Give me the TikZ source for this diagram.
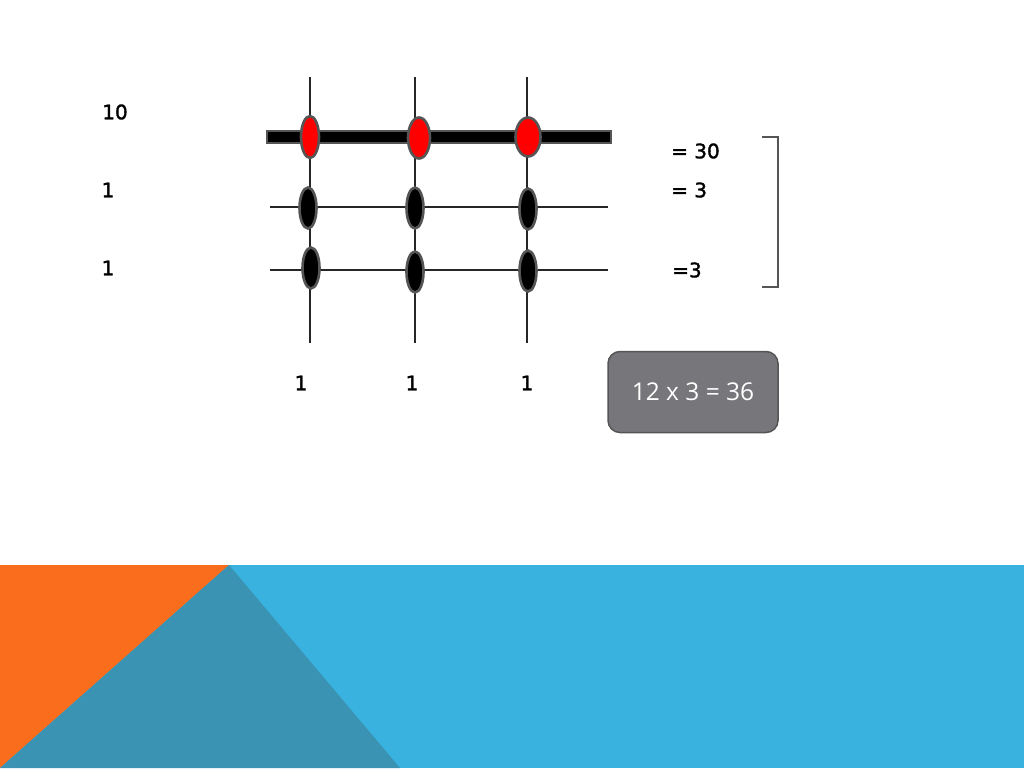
\documentclass[tikz,border=0pt]{standalone}
\usepackage{fontspec}
\setmainfont{DejaVu Sans}
\newfontfamily\lblfont{DejaVu Sans}[FakeBold=1.6]
\newfontfamily\boxfont{Open Sans}
\usetikzlibrary{shapes.geometric}
\definecolor{orng}{HTML}{F96D1C}
\definecolor{lblue}{HTML}{3AB2E0}
\definecolor{dteal}{HTML}{3A93B2}
\definecolor{bgray}{HTML}{77777B}
\definecolor{bdgray}{HTML}{555555}
\definecolor{beadred}{HTML}{FF0000}
\tikzset{
  lbl/.style={font=\lblfont\fontsize{20}{20}\selectfont, text=black, inner sep=0pt},
  wire/.style={draw=black!85, line width=1.2pt},
  bead/.style={ellipse, draw=bdgray, line width=2.6pt, fill=black, minimum width=17pt, minimum height=41pt, inner sep=0pt},
  redbead/.style={bead, fill=beadred},
  resbox/.style={draw=bdgray, line width=1.5pt, fill=bgray, rounded corners=12pt, minimum width=170pt, minimum height=81pt, text=white, font=\boxfont\fontsize{24.5}{24.5}\selectfont}
}
\begin{document}
\begin{tikzpicture}[x=1pt,y=-1pt]
\useasboundingbox (0,0) rectangle (1024,768);
\fill[white] (0,0) rectangle (1024,768);
% bottom band
\fill[lblue] (0,565) rectangle (1024,768);
\fill[orng] (0,565) -- (229,565) -- (0,768) -- cycle;
\fill[dteal] (229,565) -- (400,768) -- (0,768) -- cycle;
% wires
\coordinate (v1t) at (310,77); \coordinate (v1b) at (310,343);
\coordinate (v2t) at (415,77); \coordinate (v2b) at (415,343);
\coordinate (v3t) at (527,77); \coordinate (v3b) at (527,343);
\draw[wire] (v1t) -- (v1b);
\draw[wire] (v2t) -- (v2b);
\draw[wire] (v3t) -- (v3b);
\coordinate (h2l) at (270,207); \coordinate (h2r) at (608,207);
\coordinate (h3l) at (270,270); \coordinate (h3r) at (608,270);
\draw[wire] (h2l) -- (h2r);
\draw[wire] (h3l) -- (h3r);
% thick bar
\node[draw=bdgray, line width=2.5pt, fill=black, minimum width=344pt, minimum height=12pt, inner sep=0pt] (bar) at (439,137) {};
% beads
\node[redbead, minimum width=18pt, minimum height=42pt] (r1) at (310,137) {};
\node[redbead, minimum width=22pt, minimum height=41pt] (r2) at (419,138) {};
\node[redbead, minimum width=25pt, minimum height=39pt] (r3) at (528,137) {};
\node[bead] (b11) at (308,208) {};
\node[bead] (b12) at (415,208) {};
\node[bead] (b13) at (528,209) {};
\node[bead] (b21) at (311,268) {};
\node[bead] (b22) at (415,272) {};
\node[bead] (b23) at (528,271) {};
% left labels
\node[lbl] (l10) at (115,112) {10};
\node[lbl] (l1a) at (108,190) {1};
\node[lbl] (l1b) at (108,268) {1};
% right labels
\node[lbl, anchor=west] (e30) at (671,151) {= 30};
\node[lbl, anchor=west] (e3a) at (671,190) {= 3};
\node[lbl, anchor=west] (e3b) at (672,270) {=3};
% bracket
\coordinate (bt) at (762,137); \coordinate (bb) at (762,287);
\draw[draw=bdgray, line width=1.3pt] (bt) -- ++(16,0) -- ++(0,150) -- (bb);
% bottom labels
\node[lbl] (c1) at (301,383) {1};
\node[lbl] (c2) at (412,383) {1};
\node[lbl] (c3) at (527,383) {1};
% result box
\node[resbox] (res) at (693,392) {12 x 3 = 36};
\end{tikzpicture}
\end{document}
